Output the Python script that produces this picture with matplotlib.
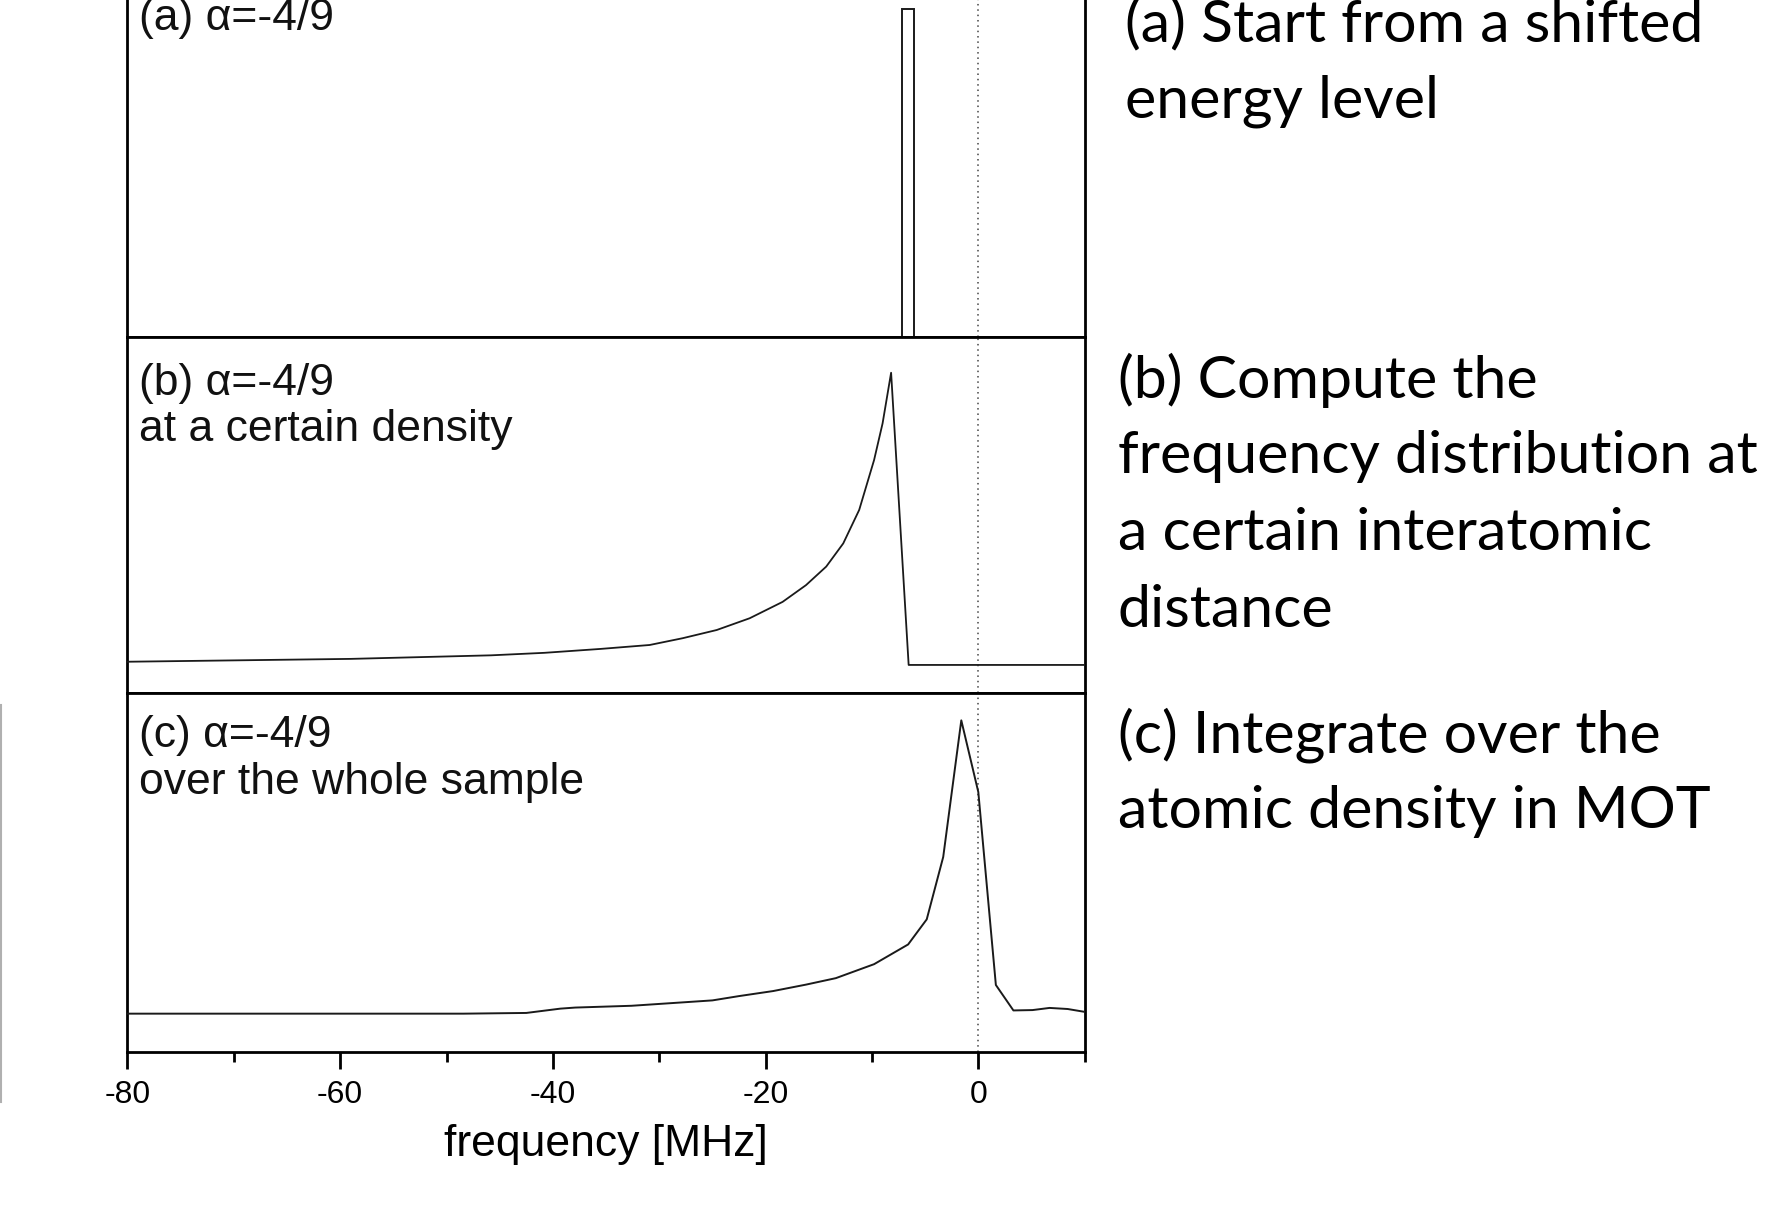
import matplotlib
matplotlib.use('Agg')
import matplotlib.pyplot as plt
from matplotlib.lines import Line2D

# --- data (MHz, relative intensity) ---
line_edges = [-7.2, -6.0]      # panel (a): single shifted level
line_height = 0.921

freq_b = [-80, -59, -45.8, -40.8, -35.5, -30.9, -27.8, -24.6, -21.5, -18.4,
          -16.2, -14.3, -12.7, -11.2, -9.8, -9.0, -8.2, -6.55, 10]
dens_b = [0.089, 0.097, 0.107, 0.114, 0.125, 0.136, 0.155, 0.178, 0.211, 0.257,
          0.304, 0.356, 0.421, 0.515, 0.655, 0.758, 0.900, 0.080, 0.080]

freq_c = [-80, -48.4, -42.5, -39.3, -37.9, -32.6, -25.0, -22.5, -19.3, -16.2,
          -13.4, -9.8, -6.6, -4.85, -3.3, -1.6, 0.0, 1.65, 3.3, 5.1, 6.7, 8.4, 10]
dens_c = [0.107, 0.107, 0.109, 0.121, 0.124, 0.129, 0.144, 0.156, 0.170, 0.188,
          0.206, 0.245, 0.300, 0.370, 0.544, 0.925, 0.725, 0.187, 0.116, 0.117,
          0.123, 0.120, 0.112]

panel_labels = [["(a) α=-4/9"],
                ["(b) α=-4/9", "at a certain density"],
                ["(c) α=-4/9", "over the whole sample"]]
notes = [["(a) Start from a shifted", "energy level"],
         ["(b) Compute the", "frequency distribution at", "a certain interatomic", "distance"],
         ["(c) Integrate over the", "atomic density in MOT"]]

major_ticks = [-80, -60, -40, -20, 0]
minor_ticks = [-70, -50, -30, -10, 10]

plt.rcParams['font.family'] = ['Liberation Sans', 'DejaVu Sans']

fig = plt.figure(figsize=(17.68, 12.28), dpi=100, facecolor='white')

left, width = 0.0721, 0.5414
bottoms = [0.7255, 0.4353, 0.1433]
heights = [0.2902, 0.2902, 0.2920]
axes = [fig.add_axes([left, b, width, h]) for b, h in zip(bottoms, heights)]

lc = '#1a1a1a'
for ax in axes:
    ax.set_xlim(-80, 10)
    ax.set_ylim(0, 1)
    ax.set_yticks([])
    for s in ax.spines.values():
        s.set_linewidth(2.0)
        s.set_color('black')
    ax.axvline(0, color='#444444', lw=1.1, ls=(0, (1, 2.5)), zorder=1)

# (a) single line as an open bar
axes[0].bar([(line_edges[0] + line_edges[1]) / 2], [line_height],
            width=line_edges[1] - line_edges[0], fill=False,
            edgecolor=lc, lw=1.4, zorder=3)
axes[1].plot(freq_b, dens_b, color=lc, lw=1.3, zorder=3)
axes[2].plot(freq_c, dens_c, color=lc, lw=1.4, zorder=3)

for ax in axes[:2]:
    ax.set_xticks([])
ax = axes[2]
ax.set_xticks(major_ticks)
ax.set_xticklabels([str(t) for t in major_ticks], fontsize=23)
ax.set_xticks(minor_ticks, minor=True)
ax.tick_params(axis='x', which='major', direction='out', length=12.5, width=2, pad=8)
ax.tick_params(axis='x', which='minor', direction='out', length=7, width=2)
ax.set_xlabel('frequency [MHz]', fontsize=32, labelpad=10)

label_y = [[0.893], [0.871, 0.740], [0.882, 0.753]]
for ax, labels, ys in zip(axes, panel_labels, label_y):
    for txt, y in zip(labels, ys):
        ax.text(0.012, y, txt, transform=ax.transAxes, fontsize=32,
                ha='left', va='center', color='#111111')

# notes on the right
note_x = [1125 / 1768, 1118 / 1768, 1118 / 1768]
note_y0 = [24.5, 380.0, 735.0]
for blk, x, y0 in zip(notes, note_x, note_y0):
    for i, txt in enumerate(blk):
        y = 1 - (y0 + i * 76.7) / 1228
        fig.text(x, y, txt, fontsize=42.5, family=['Lato', 'DejaVu Sans'],
                 ha='left', va='center', color='black')

# faint edge line at far left
fig.add_artist(Line2D([0.0008, 0.0008], [1 - 705 / 1228, 1 - 1102 / 1228],
                      transform=fig.transFigure, color='#b0b0b0', lw=1.5))

fig.savefig('out.png', dpi=100, facecolor='white')
